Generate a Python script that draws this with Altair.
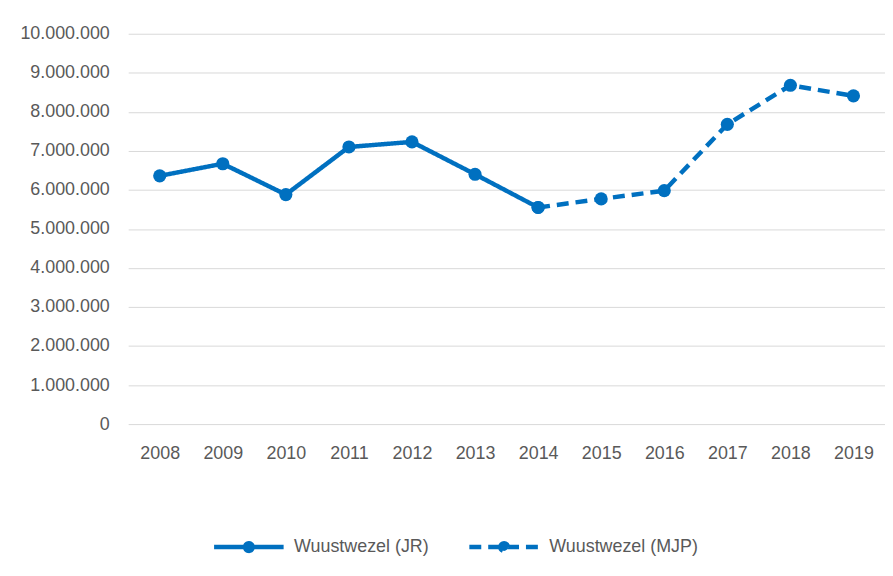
import altair as alt
import pandas as pd

series_names = ["Wuustwezel (JR)", "Wuustwezel (MJP)"]
years_jr = [2008, 2009, 2010, 2011, 2012, 2013, 2014]
values_jr = [6360000, 6670000, 5880000, 7100000, 7230000, 6400000, 5550000]
years_mjp = [2014, 2015, 2016, 2017, 2018, 2019]
values_mjp = [5550000, 5770000, 5980000, 7680000, 8680000, 8410000]
y_ticks = [0, 1000000, 2000000, 3000000, 4000000, 5000000,
           6000000, 7000000, 8000000, 9000000, 10000000]

df = pd.concat([
    pd.DataFrame({"year": years_jr, "value": values_jr, "series": series_names[0]}),
    pd.DataFrame({"year": years_mjp, "value": values_mjp, "series": series_names[1]}),
])

BLUE = "#0070C0"
GREY = "#595959"
FONT = "Liberation Sans"

x = alt.X("year:O", title=None,
          axis=alt.Axis(labelAngle=0, labelFontSize=18, labelColor=GREY, labelFont=FONT,
                        ticks=False, domain=False, labelPadding=21, grid=False))
y = alt.Y("value:Q", title=None,
          scale=alt.Scale(domain=[0, 10000000], nice=False, zero=True),
          axis=alt.Axis(values=y_ticks, labelFontSize=18, labelColor=GREY, labelFont=FONT,
                        ticks=False, domain=False, labelPadding=19,
                        gridColor="#d9d9d9", gridWidth=1,
                        labelExpr="replace(format(datum.value, ','), /,/g, '.')"))

legend_path = ("M-1,0H1M-0.11,0A0.11,0.11,0,1,1,0.11,0A0.11,0.11,0,1,1,-0.11,0Z")

lines = alt.Chart(df).mark_line(strokeWidth=4.5, color=BLUE).encode(
    x=x, y=y,
    strokeDash=alt.StrokeDash(
        "series:N", title=None,
        scale=alt.Scale(domain=series_names, range=[[1, 0], [12, 7]]),
        legend=alt.Legend(orient="none", direction="horizontal", legendX=84, legendY=479,
                          symbolType=legend_path, symbolSize=4900,
                          symbolStrokeColor=BLUE, symbolFillColor=BLUE, symbolStrokeWidth=4.5,
                          labelFontSize=18, labelColor=GREY, labelFont=FONT,
                          labelOffset=8, columnPadding=31, padding=0)),
    detail="series:N",
)

points = alt.Chart(df).mark_circle(size=175, color=BLUE, opacity=1).encode(x=x, y=y)

chart = alt.layer(lines, points).properties(
    width=762, height=393,
    autosize=alt.AutoSizeParams(type="none"),
    padding={"left": 121, "top": 24, "right": 0, "bottom": 151},
).configure_view(stroke=None)

chart.save("out.html", embed_options={"renderer": "svg", "actions": False})
